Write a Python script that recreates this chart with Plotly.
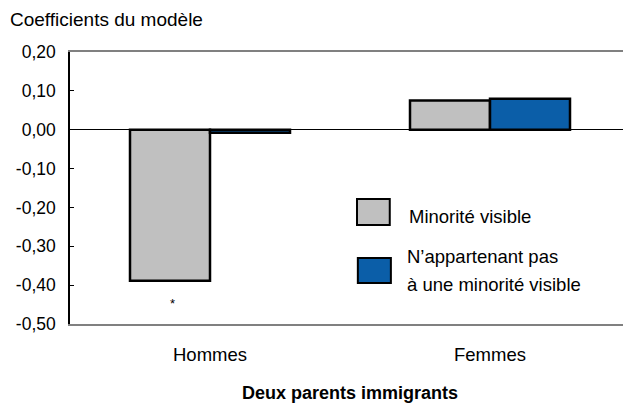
import plotly.graph_objects as go

categories = ["Hommes", "Femmes"]
minorite_visible = [-0.389, 0.075]
non_minorite = [-0.008, 0.080]
legend_gray = "Minorité visible"
legend_blue = ["N’appartenant pas", "à une minorité visible"]
y_ticks = [0.2, 0.1, 0.0, -0.1, -0.2, -0.3, -0.4, -0.5]
y_ticktext = [f"{v:.2f}".replace(".", ",") for v in y_ticks]

GRAY = "#C0C0C0"
BLUE = "#0B5EA8"
FONT = "Liberation Sans, Arial, sans-serif"

fig = go.Figure()
fig.add_trace(go.Bar(
    x=categories, y=minorite_visible, name=legend_gray,
    marker=dict(color=GRAY, line=dict(color="black", width=2.5)),
    showlegend=False,
))
fig.add_trace(go.Bar(
    x=categories, y=non_minorite, name=" ".join(legend_blue),
    marker=dict(color=BLUE, line=dict(color="black", width=2.5)),
    showlegend=False,
))

# significance marker under Hommes / minorité visible
fig.add_annotation(x=categories[0], y=minorite_visible[0] - 0.057, text="*",
                   showarrow=False, xshift=-38, font=dict(size=13, color="black"))

# manual legend
fig.add_shape(type="rect", xref="paper", yref="paper", x0=0.5125, x1=0.571, y0=0.364, y1=0.46,
              fillcolor=GRAY, line=dict(color="black", width=2))
fig.add_shape(type="rect", xref="paper", yref="paper", x0=0.514, x1=0.573, y0=0.151, y1=0.243,
              fillcolor=BLUE, line=dict(color="black", width=2))
legend_font = dict(size=18.5)
fig.add_annotation(xref="paper", yref="paper", x=0.602, y=0.397, text=legend_gray,
                   showarrow=False, xanchor="left", yanchor="middle", font=legend_font)
fig.add_annotation(xref="paper", yref="paper", x=0.5975, y=0.25, text=legend_blue[0],
                   showarrow=False, xanchor="left", yanchor="middle", font=legend_font)
fig.add_annotation(xref="paper", yref="paper", x=0.5975, y=0.147, text=legend_blue[1],
                   showarrow=False, xanchor="left", yanchor="middle", font=legend_font)

# titles
fig.add_annotation(xref="paper", yref="paper", x=-0.11, y=1.118, text="Coefficients du modèle",
                   showarrow=False, xanchor="left", yanchor="middle", font=dict(size=19))
fig.add_annotation(xref="paper", yref="paper", x=0.5, y=-0.2537, text="<b>Deux parents immigrants</b>",
                   showarrow=False, xanchor="center", yanchor="middle", font=dict(size=18))

# page body has an 8px margin, so the figure is 8px smaller than the window
fig.update_layout(
    width=623, height=396,
    margin=dict(l=62, r=1, t=44, b=80),
    paper_bgcolor="white", plot_bgcolor="white",
    font=dict(family=FONT, size=18, color="black"),
    barmode="group", bargap=0.4286, bargroupgap=0,
    xaxis=dict(showline=True, linecolor="#808080", linewidth=2, mirror=True,
               showgrid=False, ticks="", ticklabelstandoff=13, tickfont=dict(size=18.5)),
    yaxis=dict(range=[-0.5, 0.2], tickvals=y_ticks, ticktext=y_ticktext,
               showline=True, linecolor="black", linewidth=1.5,
               showgrid=False, zeroline=True, zerolinecolor="black", zerolinewidth=1,
               ticks="inside", ticklen=4, tickcolor="black", ticklabelstandoff=9,
               tickfont=dict(size=17.5)),
)

fig.write_html("out.html")
